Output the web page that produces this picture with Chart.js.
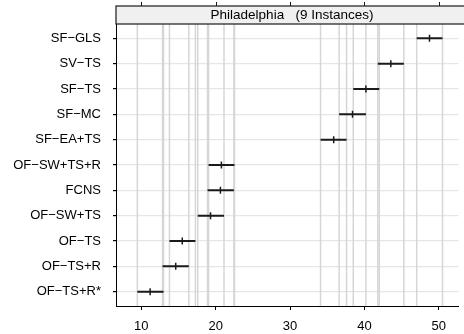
<!DOCTYPE html>
<html>
<head>
<meta charset="utf-8">
<script src="https://cdn.jsdelivr.net/npm/chart.js@4.4.1/dist/chart.umd.min.js"></script>
<style>
  html, body { margin: 0; padding: 0; background: #fff; }
  canvas { display: block; }
</style>
</head>
<body>
<canvas id="myChart" width="464" height="334"></canvas>
<script>
// data
var categories = ['SF−GLS', 'SV−TS', 'SF−TS', 'SF−MC', 'SF−EA+TS', 'OF−SW+TS+R', 'FCNS', 'OF−SW+TS', 'OF−TS', 'OF−TS+R', 'OF−TS+R*'];
var means = [48.75, 43.55, 40.2, 38.4, 35.87, 20.77, 20.64, 19.31, 15.51, 14.63, 11.19];
var lower = [47.03, 41.8, 38.5, 36.6, 34.1, 19.05, 18.91, 17.59, 13.79, 12.86, 9.47];
var upper = [50.5, 45.3, 42.0, 40.2, 37.6, 22.53, 22.45, 21.12, 17.28, 16.39, 12.99];
var xTicks = [10, 20, 30, 40, 50];
var stripTitle = 'Philadelphia   (9 Instances)';

var fontFamily = '"Liberation Sans", Arial, Helvetica, sans-serif';

// one line dataset per interval
var datasets = [];
for (var i = 0; i < categories.length; i++) {
    datasets.push({
        data: [{x: lower[i], y: i}, {x: upper[i], y: i}],
        showLine: true,
        borderColor: '#1a1a1a',
        borderWidth: 2,
        pointRadius: 0
    });
}
// the mean markers
datasets.push({
    data: means.map(function(m, i) { return {x: m, y: i}; }),
    pointStyle: 'line',
    rotation: 90,
    pointRadius: 3.5,
    borderColor: '#1a1a1a',
    borderWidth: 1.5,
    showLine: false
});

// vertical reference lines at every interval end + the strip on top
var latticePlugin = {
    id: 'lattice',
    beforeDatasetsDraw: function(chart) {
        var ctx = chart.ctx, area = chart.chartArea, xs = chart.scales.x;
        ctx.save();
        ctx.beginPath();
        ctx.rect(area.left, area.top, area.right - area.left, area.bottom - area.top);
        ctx.clip();
        ctx.strokeStyle = '#d6d6d6';
        ctx.lineWidth = 1.5;
        lower.concat(upper).forEach(function(v) {
            var px = xs.getPixelForValue(v);
            ctx.beginPath();
            ctx.moveTo(px, area.top);
            ctx.lineTo(px, area.bottom);
            ctx.stroke();
        });
        ctx.restore();
    },
    afterDraw: function(chart) {
        var ctx = chart.ctx, area = chart.chartArea, xs = chart.scales.x;
        ctx.save();
        // strip
        ctx.fillStyle = '#f0f0f0';
        ctx.fillRect(area.left, 6, chart.width - area.left + 2, area.top - 6);
        ctx.strokeStyle = '#1a1a1a';
        ctx.lineWidth = 1.2;
        ctx.strokeRect(area.left, 6, chart.width - area.left + 4, area.top - 6);
        ctx.fillStyle = '#000';
        ctx.font = '13.5px ' + fontFamily;
        ctx.textAlign = 'center';
        ctx.textBaseline = 'middle';
        ctx.fillText(stripTitle, (area.left + chart.width + 4) / 2, 15.5);
        // top ticks
        ctx.lineWidth = 1;
        xTicks.forEach(function(v) {
            var px = Math.round(xs.getPixelForValue(v)) + 0.5;
            ctx.beginPath();
            ctx.moveTo(px, 2);
            ctx.lineTo(px, 6);
            ctx.stroke();
        });
        ctx.restore();
    }
};

var ctx = document.getElementById('myChart').getContext('2d');
window.myChart = new Chart(ctx, {
    type: 'scatter',
    data: { datasets: datasets },
    options: {
        responsive: false,
        animation: false,
        layout: { padding: { top: 24, left: 0, right: 0, bottom: 0 } },
        plugins: {
            legend: { display: false },
            tooltip: { enabled: false }
        },
        scales: {
            x: {
                type: 'linear',
                min: 6.6,
                max: 52.65,
                afterBuildTicks: function(axis) {
                    axis.ticks = xTicks.map(function(v) { return {value: v}; });
                },
                afterFit: function(axis) { axis.height = 28; },
                grid: { drawOnChartArea: false, tickLength: 4, tickColor: '#000' },
                border: { color: '#000', width: 1 },
                ticks: { color: '#000', font: { family: fontFamily, size: 13 }, padding: 9, maxRotation: 0 }
            },
            y: {
                type: 'linear',
                reverse: true,
                min: -0.565,
                max: 10.565,
                afterBuildTicks: function(axis) {
                    axis.ticks = categories.map(function(c, i) { return {value: i}; });
                },
                afterFit: function(axis) { axis.width = 116; },
                grid: { color: '#e6e6e6', lineWidth: 1.2, tickLength: 3, tickColor: '#000' },
                border: { color: '#000', width: 1 },
                ticks: {
                    color: '#000',
                    font: { family: fontFamily, size: 13 },
                    padding: 12,
                    callback: function(v) { return categories[v]; }
                }
            }
        }
    },
    plugins: [latticePlugin]
});
</script>
</body>
</html>
